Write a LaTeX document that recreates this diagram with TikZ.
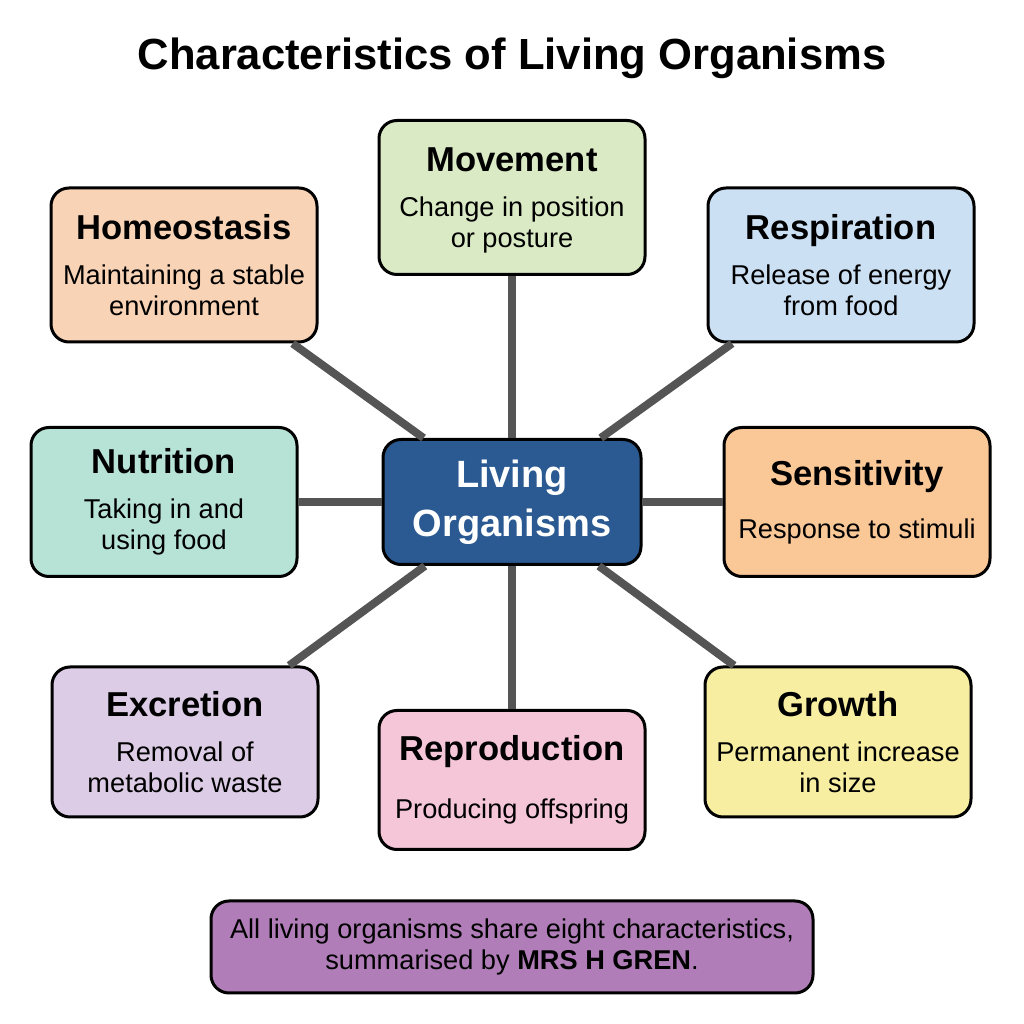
\documentclass[tikz,border=0pt]{standalone}
\usepackage{fontspec}
\setmainfont{Liberation Sans}
\usepackage{xcolor}
\usetikzlibrary{positioning}

\definecolor{homeofill}{HTML}{F8D3B5}
\definecolor{movefill}{HTML}{DAEAC4}
\definecolor{respfill}{HTML}{CCE0F4}
\definecolor{nutrifill}{HTML}{B7E2D6}
\definecolor{sensefill}{HTML}{FAC897}
\definecolor{excrfill}{HTML}{DCCCE6}
\definecolor{reprofill}{HTML}{F5C6D8}
\definecolor{growfill}{HTML}{F7EEA2}
\definecolor{hubfill}{HTML}{2B5A92}
\definecolor{notefill}{HTML}{B07DB8}
\definecolor{linkgray}{HTML}{555555}

\newcommand{\hd}[1]{{\fontsize{17.3}{20}\selectfont\bfseries #1}}

\begin{document}
\begin{tikzpicture}[x=0.5pt, y=0.5pt,
        block/.style={rectangle, draw, line width=1.5pt, rounded corners=9pt, align=center,
            minimum width=133pt, minimum height=77pt, inner sep=2pt,
            font=\fontsize{13.6}{15.5}\selectfont},
        hub/.style={rectangle, draw, line width=1.5pt, rounded corners=9pt, align=center,
            fill=hubfill, text=white, minimum width=129pt, minimum height=62.5pt,
            font=\fontsize{19}{24.5}\selectfont\bfseries},
        note/.style={rectangle, draw, line width=1.5pt, rounded corners=9pt, align=center,
            fill=notefill, minimum width=301pt, minimum height=46pt,
            font=\fontsize{13.6}{15.5}\selectfont},
        line/.style={draw, linkgray, line width=4pt}]

        \useasboundingbox (0,0) rectangle (1024,1024);

        \node [font=\fontsize{21.8}{26}\selectfont\bfseries] (title) at (512,966) {Characteristics of Living Organisms};

        \node [hub] (hub) at (512,522) {Living\\Organisms};

        \node [block, fill=movefill, above=82.5pt of hub, yshift=-1.5pt, text depth=-3pt] (movement) {\hd{Movement}\\[7pt] Change in position\\ or posture};
        \node [block, fill=homeofill] (homeo) at (184,759) {\hd{Homeostasis}\\[7pt] Maintaining a stable\\ environment};
        \node [block, fill=respfill] (resp) at (841,759) {\hd{Respiration}\\[7pt] Release of energy\\ from food};
        \node [block, fill=nutrifill, minimum height=74.5pt, left=41.5pt of hub] (nutri) {\hd{Nutrition}\\[7pt] Taking in and\\ using food};
        \node [block, fill=sensefill, minimum height=74.5pt, right=41.5pt of hub, xshift=-1.5pt] (sense) {\hd{Sensitivity}\\[11pt] Response to stimuli};
        \node [block, fill=excrfill, minimum height=75pt] (excr) at (185,282) {\hd{Excretion}\\[7pt] Removal of\\ metabolic waste};
        \node [block, fill=reprofill, minimum height=69.5pt, below=71.5pt of hub] (repro) {\hd{Reproduction}\\[13.5pt] Producing offspring};
        \node [block, fill=growfill, minimum height=75pt] (growth) at (838,282) {\hd{Growth}\\[7pt] Permanent increase\\ in size};

        \node [note] (summary) at (512,77) {All living organisms share eight characteristics,\\ summarised by \textbf{MRS H GREN}.};

        % Links from the hub
        \path [line] (hub) -- (movement);
        \path [line] (hub) -- (homeo);
        \path [line] (hub) -- (resp);
        \path [line] (hub) -- (nutri);
        \path [line] (hub) -- (sense);
        \path [line] (hub) -- (excr);
        \path [line] (hub) -- (repro);
        \path [line] (hub) -- (growth);

    \end{tikzpicture}
\end{document}
